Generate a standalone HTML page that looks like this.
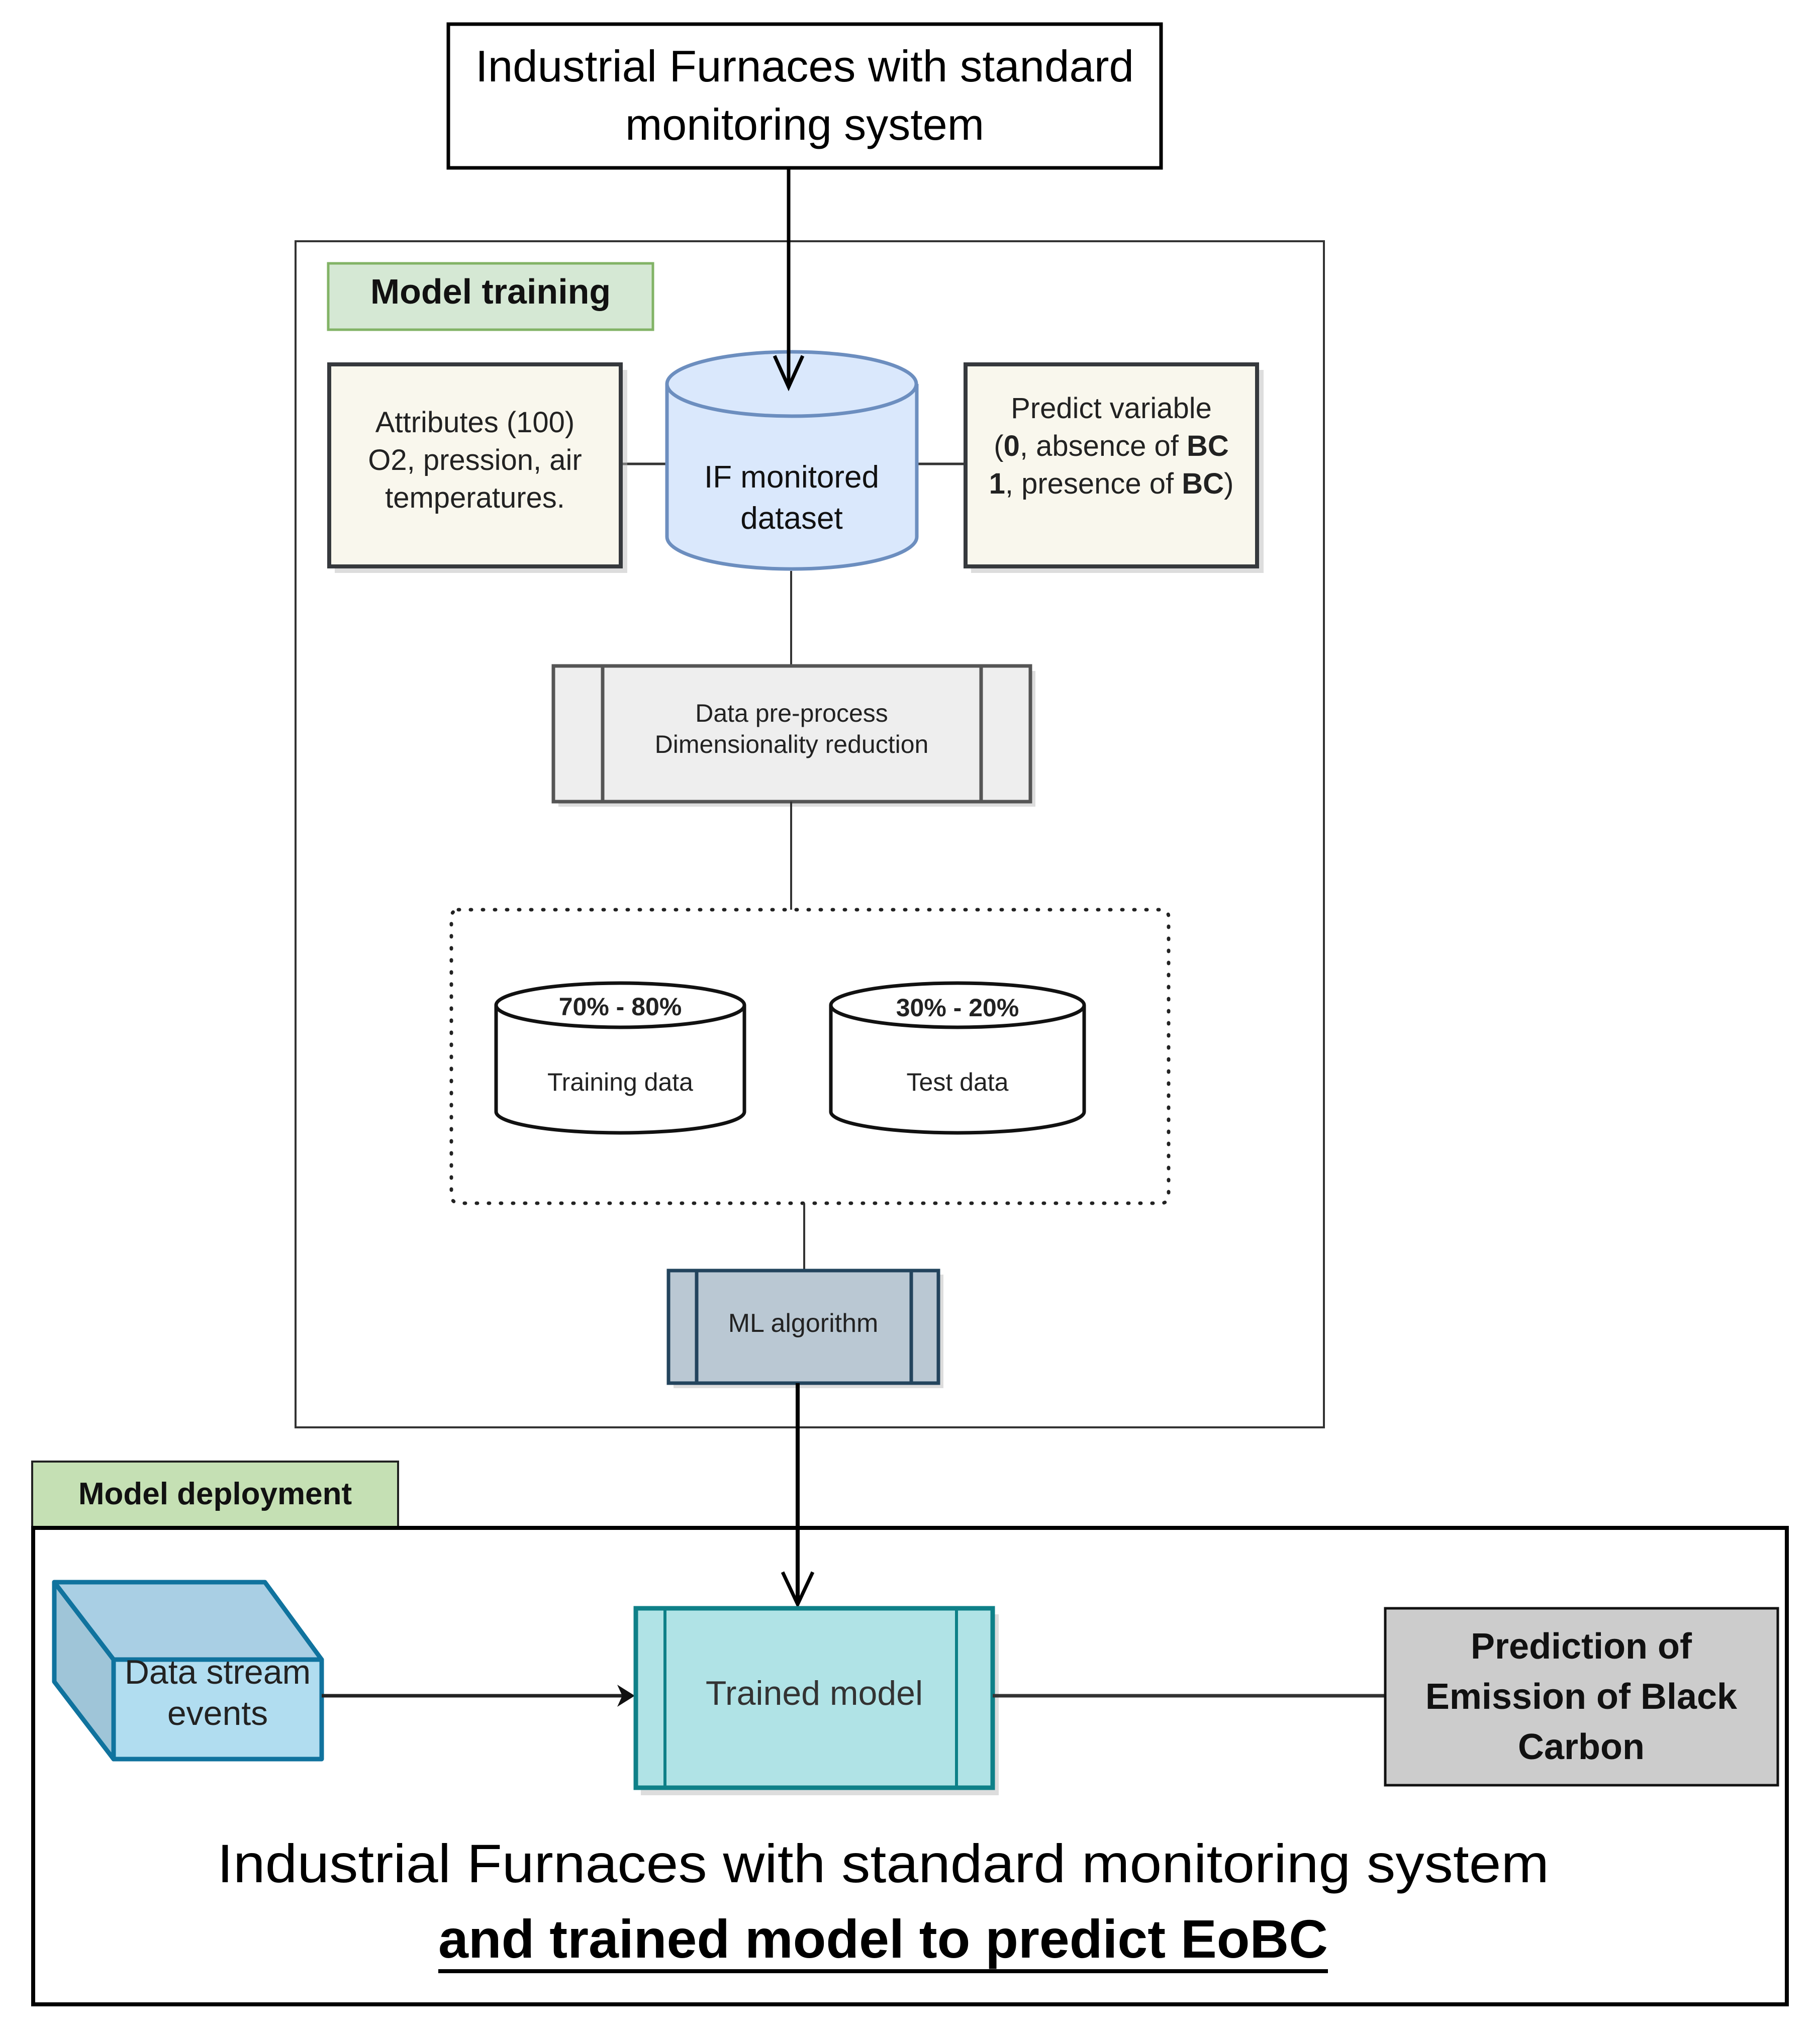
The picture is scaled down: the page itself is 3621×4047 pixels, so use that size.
<!DOCTYPE html>
<html><head><meta charset="utf-8"><style>
html,body{margin:0;padding:0;background:#fff;}
svg{display:block;}
text{font-family:"Liberation Sans",sans-serif;}
</style></head><body>
<svg width="3621" height="4047" viewBox="0 0 3621 4047" xmlns="http://www.w3.org/2000/svg">
<defs>
<marker id="ah" markerWidth="10" markerHeight="10" refX="5" refY="9" orient="auto" markerUnits="userSpaceOnUse"></marker>
</defs>
<rect width="3621" height="4047" fill="#fff"/>

<!-- top box -->
<rect x="892" y="48" width="1418" height="286" fill="#fff" stroke="#000" stroke-width="7"/>
<text x="1601" y="162" font-size="88" text-anchor="middle" textLength="1310" lengthAdjust="spacingAndGlyphs">Industrial Furnaces with standard</text>
<text x="1601" y="278" font-size="88" text-anchor="middle">monitoring system</text>

<!-- Model training box -->
<rect x="588" y="480" width="2046" height="2360" fill="#fff" stroke="#333" stroke-width="4"/>
<rect x="653" y="524" width="646" height="132" fill="#d5e8d4" stroke="#82b366" stroke-width="5"/>
<text x="976" y="604" font-size="70" font-weight="bold" text-anchor="middle" fill="#111">Model training</text>

<!-- connectors row -->
<line x1="1235" y1="923" x2="1327" y2="923" stroke="#333" stroke-width="5"/>
<line x1="1824" y1="923" x2="1921" y2="923" stroke="#333" stroke-width="5"/>

<!-- attributes -->
<rect x="666" y="736" width="582" height="404" fill="#bbb" opacity="0.5"/>
<rect x="655" y="725" width="580" height="402" fill="#f9f7ed" stroke="#36393d" stroke-width="8"/>
<text x="945" y="860" font-size="58" text-anchor="middle" fill="#222">Attributes (100)</text>
<text x="945" y="935" font-size="58" text-anchor="middle" fill="#222">O2, pression, air</text>
<text x="945" y="1010" font-size="58" text-anchor="middle" fill="#222">temperatures.</text>

<!-- predict -->
<rect x="1932" y="736" width="582" height="404" fill="#bbb" opacity="0.5"/>
<rect x="1921" y="725" width="580" height="402" fill="#f9f7ed" stroke="#36393d" stroke-width="8"/>
<text x="2211" y="832" font-size="58" text-anchor="middle" fill="#222">Predict variable</text>
<text x="2211" y="907" font-size="58" text-anchor="middle" fill="#222">(<tspan font-weight="bold">0</tspan>, absence of <tspan font-weight="bold">BC</tspan></text>
<text x="2211" y="982" font-size="58" text-anchor="middle" fill="#222"><tspan font-weight="bold">1</tspan>, presence of <tspan font-weight="bold">BC</tspan>)</text>

<!-- IF cylinder -->
<path d="M1327 764 L1327 1068 A248 64 0 0 0 1824 1068 L1824 764" fill="#dae8fc" stroke="#6c8ebf" stroke-width="7"/>
<ellipse cx="1575" cy="764" rx="248" ry="64" fill="#dae8fc" stroke="#6c8ebf" stroke-width="7"/>
<text x="1575" y="970" font-size="62" text-anchor="middle" fill="#111">IF monitored</text>
<text x="1575" y="1052" font-size="62" text-anchor="middle" fill="#111">dataset</text>

<!-- top arrow -->
<line x1="1569" y1="334" x2="1569" y2="768" stroke="#000" stroke-width="7"/>
<polyline points="1541,708 1569,770 1597,708" fill="none" stroke="#000" stroke-width="7"/>

<!-- line to preprocess -->
<line x1="1574" y1="1136" x2="1574" y2="1325" stroke="#333" stroke-width="4"/>
<rect x="1111" y="1335" width="949" height="270" fill="#bbb" opacity="0.5"/>
<rect x="1101" y="1325" width="949" height="270" fill="#eeeeee" stroke="#555" stroke-width="7"/>
<line x1="1199" y1="1325" x2="1199" y2="1595" stroke="#555" stroke-width="7"/>
<line x1="1952" y1="1325" x2="1952" y2="1595" stroke="#555" stroke-width="7"/>
<text x="1575" y="1436" font-size="50" text-anchor="middle" fill="#222">Data pre-process</text>
<text x="1575" y="1498" font-size="50" text-anchor="middle" fill="#222">Dimensionality reduction</text>

<line x1="1574" y1="1595" x2="1574" y2="1810" stroke="#333" stroke-width="4"/>
<!-- dotted group -->
<rect x="898" y="1810" width="1427" height="584" rx="14" fill="none" stroke="#222" stroke-width="7" stroke-dasharray="2 22" stroke-linecap="round"/>

<!-- training cyl -->
<path d="M897 2320 A0 0 0 0 0 0 0" fill="none"/>
<path d="M987 2000 L987 2212 A247 42 0 0 0 1481 2212 L1481 2000" fill="#fff" stroke="#111" stroke-width="7"/>
<ellipse cx="1234" cy="2000" rx="247" ry="44" fill="#fff" stroke="#111" stroke-width="7"/>
<text x="1234" y="2020" font-size="50" font-weight="bold" text-anchor="middle" fill="#222">70% - 80%</text>
<text x="1234" y="2170" font-size="50" text-anchor="middle" fill="#222">Training data</text>

<path d="M1653 2000 L1653 2212 A252 42 0 0 0 2157 2212 L2157 2000" fill="#fff" stroke="#111" stroke-width="7"/>
<ellipse cx="1905" cy="2000" rx="252" ry="44" fill="#fff" stroke="#111" stroke-width="7"/>
<text x="1905" y="2022" font-size="50" font-weight="bold" text-anchor="middle" fill="#222">30% - 20%</text>
<text x="1905" y="2170" font-size="50" text-anchor="middle" fill="#222">Test data</text>

<line x1="1600" y1="2394" x2="1600" y2="2528" stroke="#333" stroke-width="4"/>
<!-- ML algorithm -->
<rect x="1340" y="2536" width="537" height="226" fill="#bbb" opacity="0.5"/>
<rect x="1330" y="2528" width="537" height="224" fill="#bac8d3" stroke="#23445d" stroke-width="7"/>
<line x1="1386" y1="2528" x2="1386" y2="2752" stroke="#23445d" stroke-width="7"/>
<line x1="1813" y1="2528" x2="1813" y2="2752" stroke="#23445d" stroke-width="7"/>
<text x="1598" y="2650" font-size="52" text-anchor="middle" fill="#222">ML algorithm</text>

<!-- deployment -->
<rect x="64" y="2908" width="728" height="130" fill="#c5e0b4" stroke="#222" stroke-width="4"/>
<text x="428" y="2993" font-size="62" font-weight="bold" text-anchor="middle" fill="#111">Model deployment</text>
<rect x="66" y="3040" width="3489" height="948" fill="none" stroke="#000" stroke-width="8"/>

<!-- down arrow -->
<line x1="1587" y1="2752" x2="1587" y2="3190" stroke="#000" stroke-width="8"/>
<polyline points="1557,3128 1587,3192 1617,3128" fill="none" stroke="#000" stroke-width="7"/>

<!-- data stream cube -->
<g stroke="#10739e" stroke-width="9" stroke-linejoin="round">
<polygon points="108,3148 226,3302 226,3500 108,3346" fill="#9fc5d8"/>
<polygon points="108,3148 527,3148 640,3302 226,3302" fill="#a9cfe4"/>
<rect x="226" y="3302" width="414" height="198" fill="#b1ddf0"/>
</g>
<text x="433" y="3350" font-size="68" text-anchor="middle" fill="#222">Data stream</text>
<text x="433" y="3432" font-size="68" text-anchor="middle" fill="#222">events</text>
<line x1="640" y1="3374" x2="1240" y2="3374" stroke="#222" stroke-width="7"/>
<polygon points="1263,3374 1228,3352 1238,3374 1228,3396" fill="#111"/>

<!-- trained model -->
<rect x="1275" y="3212" width="712" height="360" fill="#bbb" opacity="0.5"/>
<rect x="1265" y="3200" width="710" height="357" fill="#b0e3e6" stroke="#0e8088" stroke-width="9"/>
<line x1="1323" y1="3200" x2="1323" y2="3557" stroke="#0e8088" stroke-width="6"/>
<line x1="1903" y1="3200" x2="1903" y2="3557" stroke="#0e8088" stroke-width="6"/>
<text x="1620" y="3392" font-size="68" text-anchor="middle" fill="#333">Trained model</text>

<line x1="1975" y1="3374" x2="2755" y2="3374" stroke="#333" stroke-width="7"/>
<rect x="2756" y="3200" width="781" height="352" fill="#cccccc" stroke="#111" stroke-width="5"/>
<text x="3146" y="3300" font-size="72" font-weight="bold" text-anchor="middle" fill="#111">Prediction of</text>
<text x="3146" y="3400" font-size="72" font-weight="bold" text-anchor="middle" fill="#111">Emission of Black</text>
<text x="3146" y="3500" font-size="72" font-weight="bold" text-anchor="middle" fill="#111">Carbon</text>

<text x="1757" y="3745" font-size="108" text-anchor="middle" fill="#000" textLength="2650" lengthAdjust="spacingAndGlyphs">Industrial Furnaces with standard monitoring system</text>
<text x="1757" y="3895" font-size="108" font-weight="bold" text-anchor="middle" fill="#000" textLength="1770" lengthAdjust="spacingAndGlyphs">and trained model to predict EoBC</text>
<line x1="872" y1="3922" x2="2642" y2="3922" stroke="#000" stroke-width="8"/>
</svg>
</body></html>
